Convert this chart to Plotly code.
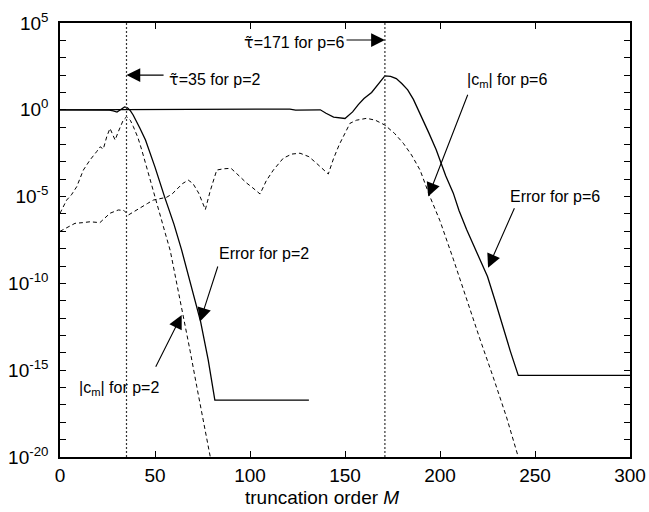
import plotly.graph_objects as go

# ---------------- data (y values stored as log10 of the magnitude) ----------------
err_p2_x = [0, 10, 20, 26, 28, 30, 32, 34, 35.5, 37, 38.5, 40, 42, 45, 50, 55, 60, 64,
            68, 72, 74, 78, 81.5, 131]
err_p2_log = [0, 0, 0, -0.02, -0.06, -0.13, 0.02, 0.17, 0.12, -0.05, -0.3, -0.6, -1.05,
              -1.74, -3.3, -5.0, -6.6, -8.07, -9.7, -11.4, -12.2, -14.4, -16.72, -16.72]

err_p6_x = [0, 60, 110, 118, 121, 124, 130, 137, 140, 144, 150, 154, 157, 160, 164,
            167.5, 171, 174, 177, 180, 183, 186, 189.5, 194, 198, 203, 207, 210, 214,
            218, 221, 225, 229, 233, 237, 241.2, 300]
err_p6_log = [0, 0, 0, 0, 0.04, -0.02, 0, 0, -0.2, -0.42, -0.5, -0.12, 0.3, 0.65, 1.0,
              1.5, 1.95, 1.93, 1.8, 1.5, 1.15, 0.6, -0.2, -1.3, -2.3, -3.8, -4.8, -5.8,
              -6.9, -7.9, -8.65, -9.6, -11.0, -12.5, -13.9, -15.3, -15.3]

cm_p2_x = [0, 3.5, 6, 8.8, 12.3, 15.8, 19.3, 21.1, 22.8, 24.6, 26.3, 29, 30.7, 33.3,
           35.1, 37, 38.6, 41, 43, 45.5, 48, 50.5, 53, 55.5, 58, 61.5, 65, 68.5, 72,
           75.5, 79, 80.5]
cm_p2_log = [-5.96, -5.2, -4.9, -4.43, -3.47, -2.89, -2.41, -2.13, -2.26, -1.55, -1.07,
             -1.74, -1.26, -0.59, -0.4, -0.6, -0.97, -1.6, -2.3, -3.3, -4.3, -5.25,
             -6.2, -7.15, -8.1, -10.0, -11.9, -13.9, -15.95, -17.95, -20.0, -20.8]

cm_p6_x = [0, 4, 7.9, 12, 15.8, 21, 24, 26.3, 30.7, 33.7, 36, 39, 42.1, 46, 49.1, 53,
           56.1, 59, 62, 64.5, 67.5, 70, 73, 76.5, 79, 82.5, 86, 90, 94.7, 98, 101.5,
           105.3, 108.5, 112.3, 117.5, 122, 126.3, 131, 135, 141.2, 144, 147, 150,
           152.6, 156, 161.4, 166, 171, 176, 180.7, 185, 189.5, 194.7, 200, 207, 214,
           221, 228, 235, 241.2, 242.5]
cm_p6_log = [-7.0, -6.75, -6.54, -6.5, -6.45, -6.5, -6.2, -5.96, -5.77, -5.8, -6.06,
             -5.85, -5.67, -5.4, -5.2, -5.1, -5.04, -4.85, -4.5, -4.25, -4.05, -4.25,
             -4.8, -5.75, -4.7, -3.47, -3.4, -3.37, -3.85, -4.2, -4.5, -4.85, -4.1,
             -3.47, -2.79, -2.55, -2.5, -2.7, -3.08, -3.7, -2.8, -2.0, -1.35, -0.78,
             -0.6, -0.49, -0.6, -0.88, -1.35, -1.93, -2.6, -3.47, -5.0, -6.4, -8.6,
             -10.96, -13.2, -15.4, -17.7, -20.0, -20.4]

tau_lines = [35, 171]

x_ticks = [0, 50, 100, 150, 200, 250, 300]
y_decades = list(range(-20, 6))
y_label_decades = [-20, -15, -10, -5, 0, 5]

# ---------------- figure ----------------
FONT = "Liberation Sans, Arial, sans-serif"
TAU = '<span style="font-family:DejaVu Sans">τ̃</span>'


def tolin(vals):
    return [10 ** v for v in vals]


fig = go.Figure()
fig.add_trace(go.Scatter(x=err_p2_x, y=tolin(err_p2_log), mode="lines",
                         line=dict(color="black", width=1.3), showlegend=False))
fig.add_trace(go.Scatter(x=err_p6_x, y=tolin(err_p6_log), mode="lines",
                         line=dict(color="black", width=1.3), showlegend=False))
fig.add_trace(go.Scatter(x=cm_p2_x, y=tolin(cm_p2_log), mode="lines",
                         line=dict(color="black", width=1, dash="4px,3px"),
                         showlegend=False))
fig.add_trace(go.Scatter(x=cm_p6_x, y=tolin(cm_p6_log), mode="lines",
                         line=dict(color="black", width=1, dash="4px,3px"),
                         showlegend=False))

for xv in tau_lines:
    fig.add_shape(type="line", xref="x", yref="paper", x0=xv, x1=xv, y0=0, y1=1,
                  line=dict(color="#333333", width=1.2, dash="2px,2px"))

ann_font = dict(family=FONT, size=16, color="black")


def label(x, y, text):
    fig.add_annotation(x=x, y=y, xref="x", yref="y", text=text, showarrow=False,
                       xanchor="left", yanchor="middle", font=ann_font)


def arrow(x_tip, y_tip, x_tail, y_tail):
    fig.add_annotation(x=x_tip, y=y_tip, ax=x_tail, ay=y_tail, xref="x", yref="y",
                       axref="x", ayref="y", text="", showarrow=True, arrowhead=2,
                       arrowsize=2.5, arrowwidth=1.1, arrowcolor="black", standoff=0)


label(56.3, 1.77, TAU + "=35 for p=2")
arrow(35, 2.0, 55.3, 2.0)
label(95.8, 3.85, TAU + "=171 for p=6")
arrow(171, 4.02, 150, 4.02)
label(82.5, -8.25, "Error for p=2")
arrow(73.7, -12.2, 83.3, -8.94)
label(8.8, -16.03, "|c<sub>m</sub>| for p=2")
arrow(64.05, -11.82, 50, -14.89)
label(213.2, 1.66, "|c<sub>m</sub>| for p=6")
arrow(193.8, -5.0, 214.9, 0.95)
label(236, -5.0, "Error for p=6")
arrow(225.3, -9.1, 239.5, -5.58)

fig.add_annotation(xref="paper", yref="paper", x=0.46, y=-0.094, xanchor="center",
                   yanchor="middle", showarrow=False,
                   text="truncation order <i>M</i>",
                   font=dict(family=FONT, size=19, color="black"))

y_tickvals = [10 ** d for d in y_decades]
y_ticktext = [("10<sup>%d</sup>" % d) if d in y_label_decades else "" for d in y_decades]

axis_common = dict(showgrid=False, zeroline=False, showline=True, linecolor="black",
                   linewidth=1.5, mirror="allticks", ticks="inside", ticklen=6,
                   tickwidth=1, tickcolor="black", automargin=False,
                   tickfont=dict(family=FONT, size=19, color="black"))

fig.update_xaxes(range=[0, 300], tickvals=x_ticks, ticklabelstandoff=0, **axis_common)
fig.update_yaxes(type="log", range=[-20, 5], tickvals=y_tickvals, ticktext=y_ticktext,
                 ticklabelstandoff=6, **axis_common)

fig.update_layout(width=649, height=512, margin=dict(l=60, r=19, t=23, b=55),
                  paper_bgcolor="white", plot_bgcolor="white",
                  font=dict(family=FONT, color="black"))

fig.write_html("out.html")
